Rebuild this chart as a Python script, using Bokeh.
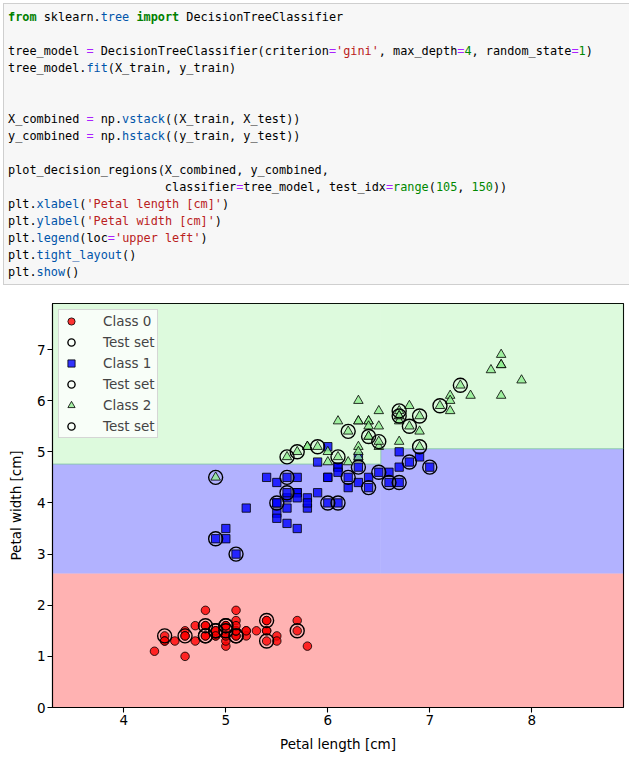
from bokeh.plotting import figure
from bokeh.models import Range1d, Legend, LegendItem, FixedTicker, Div
from bokeh.layouts import column
from bokeh.embed import file_html
from bokeh.resources import INLINE

# ---------------- data (sepal length vs petal length) -------------
class0_x = [5.1, 4.9, 4.7, 4.6, 5.0, 5.4, 4.6, 5.0, 4.4, 4.9, 5.4, 4.8, 4.8, 4.3, 5.8, 5.7, 5.4, 5.1, 5.7, 5.1,
            5.4, 5.1, 4.6, 5.1, 4.8, 5.0, 5.0, 5.2, 5.2, 4.7, 4.8, 5.4, 5.2, 5.5, 4.9, 5.0, 5.5, 4.9, 4.4, 5.1,
            5.0, 4.5, 4.4, 5.0, 5.1, 4.8, 5.1, 4.6, 5.3, 5.0]
class0_y = [1.4, 1.4, 1.3, 1.5, 1.4, 1.7, 1.4, 1.5, 1.4, 1.5, 1.5, 1.6, 1.4, 1.1, 1.2, 1.5, 1.3, 1.4, 1.7, 1.5,
            1.7, 1.5, 1.0, 1.7, 1.9, 1.6, 1.6, 1.5, 1.4, 1.6, 1.6, 1.5, 1.5, 1.4, 1.5, 1.2, 1.3, 1.4, 1.3, 1.5,
            1.3, 1.3, 1.3, 1.6, 1.9, 1.4, 1.6, 1.4, 1.5, 1.4]
class1_x = [7.0, 6.4, 6.9, 5.5, 6.5, 5.7, 6.3, 4.9, 6.6, 5.2, 5.0, 5.9, 6.0, 6.1, 5.6, 6.7, 5.6, 5.8, 6.2, 5.6,
            5.9, 6.1, 6.3, 6.1, 6.4, 6.6, 6.8, 6.7, 6.0, 5.7, 5.5, 5.5, 5.8, 6.0, 5.4, 6.0, 6.7, 6.3, 5.6, 5.5,
            5.5, 6.1, 5.8, 5.0, 5.6, 5.7, 5.7, 6.2, 5.1, 5.7]
class1_y = [4.7, 4.5, 4.9, 4.0, 4.6, 4.5, 4.7, 3.3, 4.6, 3.9, 3.5, 4.2, 4.0, 4.7, 3.6, 4.4, 4.5, 4.1, 4.5, 3.9,
            4.8, 4.0, 4.9, 4.7, 4.3, 4.4, 4.8, 5.0, 4.5, 3.5, 3.8, 3.7, 3.9, 5.1, 4.5, 4.5, 4.7, 4.4, 4.1, 4.0,
            4.4, 4.6, 4.0, 3.3, 4.2, 4.2, 4.2, 4.3, 3.0, 4.1]
class2_x = [6.3, 5.8, 7.1, 6.3, 6.5, 7.6, 4.9, 7.3, 6.7, 7.2, 6.5, 6.4, 6.8, 5.7, 5.8, 6.4, 6.5, 7.7, 7.7, 6.0,
            6.9, 5.6, 7.7, 6.3, 6.7, 7.2, 6.2, 6.1, 6.4, 7.2, 7.4, 7.9, 6.4, 6.3, 6.1, 7.7, 6.3, 6.4, 6.0, 6.9,
            6.7, 6.9, 5.8, 6.8, 6.7, 6.7, 6.3, 6.5, 6.2, 5.9]
class2_y = [6.0, 5.1, 5.9, 5.6, 5.8, 6.6, 4.5, 6.3, 5.8, 6.1, 5.1, 5.3, 5.5, 5.0, 5.1, 5.3, 5.5, 6.7, 6.9, 5.0,
            5.7, 4.9, 6.7, 4.9, 5.7, 6.0, 4.8, 4.9, 5.6, 5.8, 6.1, 6.4, 5.6, 5.1, 5.6, 6.1, 5.6, 5.5, 4.8, 5.4,
            5.6, 5.1, 5.1, 5.9, 5.7, 5.2, 5.0, 5.2, 5.4, 5.1]

# test-set points (circled)
test0_x = [4.4, 4.6, 4.8, 4.8, 4.9, 5.0, 5.0, 5.1, 5.4, 5.4, 5.7, 5.0, 4.8, 5.1, 4.9]
test0_y = [1.4, 1.4, 1.6, 1.4, 1.5, 1.6, 1.5, 1.4, 1.7, 1.3, 1.5, 1.6, 1.4, 1.4, 1.5]
test1_x = [4.9, 5.1, 5.5, 5.6, 5.6, 6.0, 6.1, 6.2, 6.3, 6.4, 6.5, 6.6, 6.7, 6.8, 7.0]
test1_y = [3.3, 3.0, 4.0, 4.2, 4.5, 4.0, 4.0, 4.5, 4.7, 4.3, 4.6, 4.4, 4.4, 4.8, 4.7]
test2_x = [4.9, 5.6, 5.7, 5.9, 6.1, 6.2, 6.4, 6.5, 6.7, 6.7, 6.8, 6.9, 6.9, 7.1, 7.3]
test2_y = [4.5, 4.9, 5.0, 5.1, 4.9, 5.4, 5.3, 5.2, 5.8, 5.7, 5.5, 5.7, 5.1, 5.9, 6.3]

# decision regions of the tree
region_left = [3.3, 3.3, 6.52, 3.3, 6.52]
region_right = [8.9, 6.52, 8.9, 6.52, 8.9]
region_bottom = [0.0, 2.62, 2.62, 4.76, 5.06]
region_top = [2.62, 4.76, 5.06, 7.9, 7.9]
region_class = [0, 1, 1, 2, 2]
# blue / green boundary (step)
boundary_x = [3.3, 6.52, 6.52, 8.9]
boundary_y = [4.76, 4.76, 5.06, 5.06]

class_labels = ["Class 0", "Class 1", "Class 2"]
class_colors = ["red", "blue", "lightgreen"]
class_markers = ["circle", "square", "triangle"]

x_ticks = [4, 5, 6, 7, 8]
y_ticks = [0, 1, 2, 3, 4, 5, 6, 7]
x_min, x_max = 3.3, 8.9
y_min, y_max = 0.0, 7.9

# ---------------- code cell text ----------------
code_lines = [
    [("from", "kw"), (" sklearn.", "plain"), ("tree", "prop"), (" ", "plain"), ("import", "kw"),
     (" DecisionTreeClassifier", "plain")],
    [],
    [("tree_model ", "plain"), ("=", "op"), (" DecisionTreeClassifier(criterion", "plain"), ("=", "op"),
     ("'gini'", "str"), (", max_depth", "plain"), ("=", "op"), ("4", "num"), (", random_state", "plain"),
     ("=", "op"), ("1", "num"), (")", "plain")],
    [("tree_model.", "plain"), ("fit", "prop"), ("(X_train, y_train)", "plain")],
    [],
    [],
    [("X_combined ", "plain"), ("=", "op"), (" np.", "plain"), ("vstack", "prop"), ("((X_train, X_test))", "plain")],
    [("y_combined ", "plain"), ("=", "op"), (" np.", "plain"), ("hstack", "prop"), ("((y_train, y_test))", "plain")],
    [],
    [("plot_decision_regions(X_combined, y_combined,", "plain")],
    [("                      classifier", "plain"), ("=", "op"), ("tree_model, test_idx", "plain"), ("=", "op"),
     ("range", "num"), ("(", "plain"), ("105", "num"), (", ", "plain"), ("150", "num"), ("))", "plain")],
    [("plt.", "plain"), ("xlabel", "prop"), ("(", "plain"), ("'Petal length [cm]'", "str"), (")", "plain")],
    [("plt.", "plain"), ("ylabel", "prop"), ("(", "plain"), ("'Petal width [cm]'", "str"), (")", "plain")],
    [("plt.", "plain"), ("legend", "prop"), ("(loc", "plain"), ("=", "op"), ("'upper left'", "str"), (")", "plain")],
    [("plt.", "plain"), ("tight_layout", "prop"), ("()", "plain")],
    [("plt.", "plain"), ("show", "prop"), ("()", "plain")],
]
style_colors = {"plain": "#000000", "kw": "#008000", "prop": "#0055AA", "str": "#BA2121",
                "num": "#008800", "op": "#AA22FF"}

html_lines = []
for line in code_lines:
    parts = []
    for tok, sty in line:
        weight = "font-weight:bold;" if sty == "kw" else ""
        parts.append('<span style="color:%s;%s">%s</span>' % (style_colors[sty], weight, tok))
    html_lines.append("".join(parts))
code_html = (
    '<div style="box-sizing:border-box;margin:3px 0 0 3px;width:680px;height:282px;'
    'padding:4.5px 0 0 4px;background:#f7f7f7;border:1px solid #cfcfcf;'
    'font-family:\'DejaVu Sans Mono\',monospace;font-size:11.85px;line-height:17px;'
    'white-space:pre;overflow:hidden;color:#000;">'
    + "\n".join(html_lines) + '</div>'
)
code = Div(text=code_html, width=629, height=290, margin=0,
           styles={"overflow": "hidden"})

# ---------------- chart ----------------
p = figure(width=629, height=469, x_range=Range1d(x_min, x_max), y_range=Range1d(y_min, y_max),
           toolbar_location=None, output_backend="svg",
           min_border_left=52, min_border_right=6, min_border_top=13, min_border_bottom=52,
           background_fill_color="white", border_fill_color="white",
           outline_line_color="black", outline_line_width=1.1)
p.grid.visible = False

reg_colors = [class_colors[c] for c in region_class]
p.quad(left=region_left, right=region_right, bottom=region_bottom, top=region_top,
       fill_color=reg_colors, fill_alpha=0.3, line_color=None)
p.line(boundary_x, boundary_y, line_color="#7fc7a0", line_alpha=0.8, line_width=1)

xs = [class0_x, class1_x, class2_x]
ys = [class0_y, class1_y, class2_y]
txs = [test0_x, test1_x, test2_x]
tys = [test0_y, test1_y, test2_y]
sizes = [8.5, 8.3, 9.5]
items = []
for k in range(3):
    r = p.scatter(xs[k], ys[k], marker=class_markers[k], size=sizes[k], fill_color=class_colors[k],
                  fill_alpha=0.8, line_color="black", line_alpha=0.8, line_width=1)
    rt = p.scatter(txs[k], tys[k], marker="circle", size=14, fill_color=None,
                   line_color="black", line_width=1.4)
    items.append(LegendItem(label=class_labels[k], renderers=[r]))
    items.append(LegendItem(label="Test set", renderers=[rt]))

legend = Legend(items=items, location="top_left", margin=6, padding=2, spacing=3,
                glyph_height=18, glyph_width=20, label_height=18, label_standoff=22,
                label_text_font="DejaVu Sans", label_text_font_size="13.5px",
                background_fill_color="white", background_fill_alpha=0.8,
                border_line_color="#cccccc", border_line_alpha=0.8, border_line_width=1)
p.add_layout(legend)

p.xaxis.ticker = FixedTicker(ticks=x_ticks)
p.yaxis.ticker = FixedTicker(ticks=y_ticks)
for ax in (p.xaxis, p.yaxis):
    ax.major_label_text_font = "DejaVu Sans"
    ax.major_label_text_font_size = "13.5px"
    ax.major_label_text_color = "black"
    ax.axis_label_text_font = "DejaVu Sans"
    ax.axis_label_text_font_size = "13.5px"
    ax.axis_label_text_font_style = "normal"
    ax.axis_label_text_color = "black"
    ax.major_tick_out = 5
    ax.major_tick_in = 0
    ax.minor_tick_out = 0
    ax.minor_tick_in = 0
    ax.major_tick_line_color = "black"
    ax.major_tick_line_width = 1.1
    ax.axis_line_color = "black"
    ax.axis_line_width = 1.1
    ax.major_label_standoff = 2
p.xaxis.axis_label = "Petal length [cm]"
p.yaxis.axis_label = "Petal width [cm]"
p.xaxis.axis_label_standoff = 8
p.yaxis.axis_label_standoff = 10

layout = column(code, p, spacing=0)
open("out.html", "w").write(file_html(layout, INLINE))
